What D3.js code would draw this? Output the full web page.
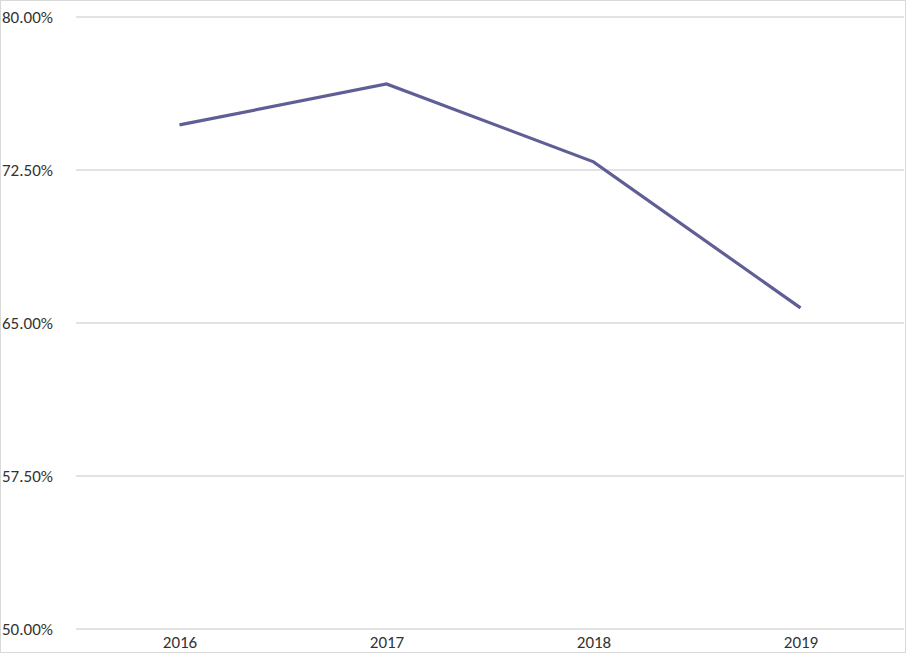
<!DOCTYPE html>
<html>
<head>
<meta charset="utf-8">
<script src="https://cdn.jsdelivr.net/npm/d3@7"></script>
<style>
  body { margin: 0; background: #fff; }
  .axis text { font-family: Carlito, "Open Sans", "Liberation Sans", sans-serif; font-size: 17px; fill: #333; }
  .grid line { stroke: #d9d9d9; stroke-width: 1.5; }
  .trend-line { fill: none; stroke: #5f5f96; stroke-width: 3.2; }
</style>
</head>
<body>
<div id="line-chart"></div>
<script>

// Data
var years = ["2016", "2017", "2018", "2019"];
var rates = [0.7471, 0.7672, 0.7290, 0.6574];
var yTicks = [0.50, 0.575, 0.65, 0.725, 0.80];

var formatPct = d3.format(".2%");

var totalWidth = 906,
    totalHeight = 654;

var margin = {top: 17, right: 2, bottom: 25, left: 76};
var width = totalWidth - margin.left - margin.right,
    height = totalHeight - margin.top - margin.bottom;

var svgRoot = d3.select("#line-chart").append("svg")
    .attr("width", totalWidth)
    .attr("height", totalHeight);

// Outer frame
svgRoot.append("rect")
    .attr("x", 0.5)
    .attr("y", 0.5)
    .attr("width", totalWidth - 1)
    .attr("height", totalHeight - 2)
    .attr("fill", "none")
    .attr("stroke", "#d9d9d9");

var svg = svgRoot.append("g")
    .attr("transform", "translate(" + margin.left + "," + margin.top + ")");

// Scales
var x = d3.scalePoint()
    .domain(years)
    .range([0, width])
    .padding(0.5);

var y = d3.scaleLinear()
    .domain([0.50, 0.80])
    .range([height, 0]);

// Gridlines
svg.append("g")
    .attr("class", "grid")
    .selectAll("line")
    .data(yTicks)
    .enter()
    .append("line")
    .attr("x1", 0)
    .attr("x2", width)
    .attr("y1", function(d) { return y(d); })
    .attr("y2", function(d) { return y(d); });

// Y axis labels
var yAxis = d3.axisLeft(y)
    .tickValues(yTicks)
    .tickFormat(formatPct)
    .tickSize(0)
    .tickPadding(0);

svg.append("g")
    .attr("class", "axis y-axis")
    .attr("transform", "translate(" + (2 - margin.left) + ",0)")
    .call(yAxis)
    .call(function(g) { g.select(".domain").remove(); })
    .selectAll("text")
    .attr("text-anchor", "start")
    .attr("dy", "0.35em");

// X axis labels
var xAxis = d3.axisBottom(x)
    .tickSize(0)
    .tickPadding(7);

svg.append("g")
    .attr("class", "axis x-axis")
    .attr("transform", "translate(0," + height + ")")
    .call(xAxis)
    .call(function(g) { g.select(".domain").remove(); });

// Trend line
var line = d3.line()
    .x(function(d, i) { return x(years[i]); })
    .y(function(d) { return y(d); });

svg.append("path")
    .datum(rates)
    .attr("class", "trend-line")
    .attr("d", line);

</script>
</body>
</html>
